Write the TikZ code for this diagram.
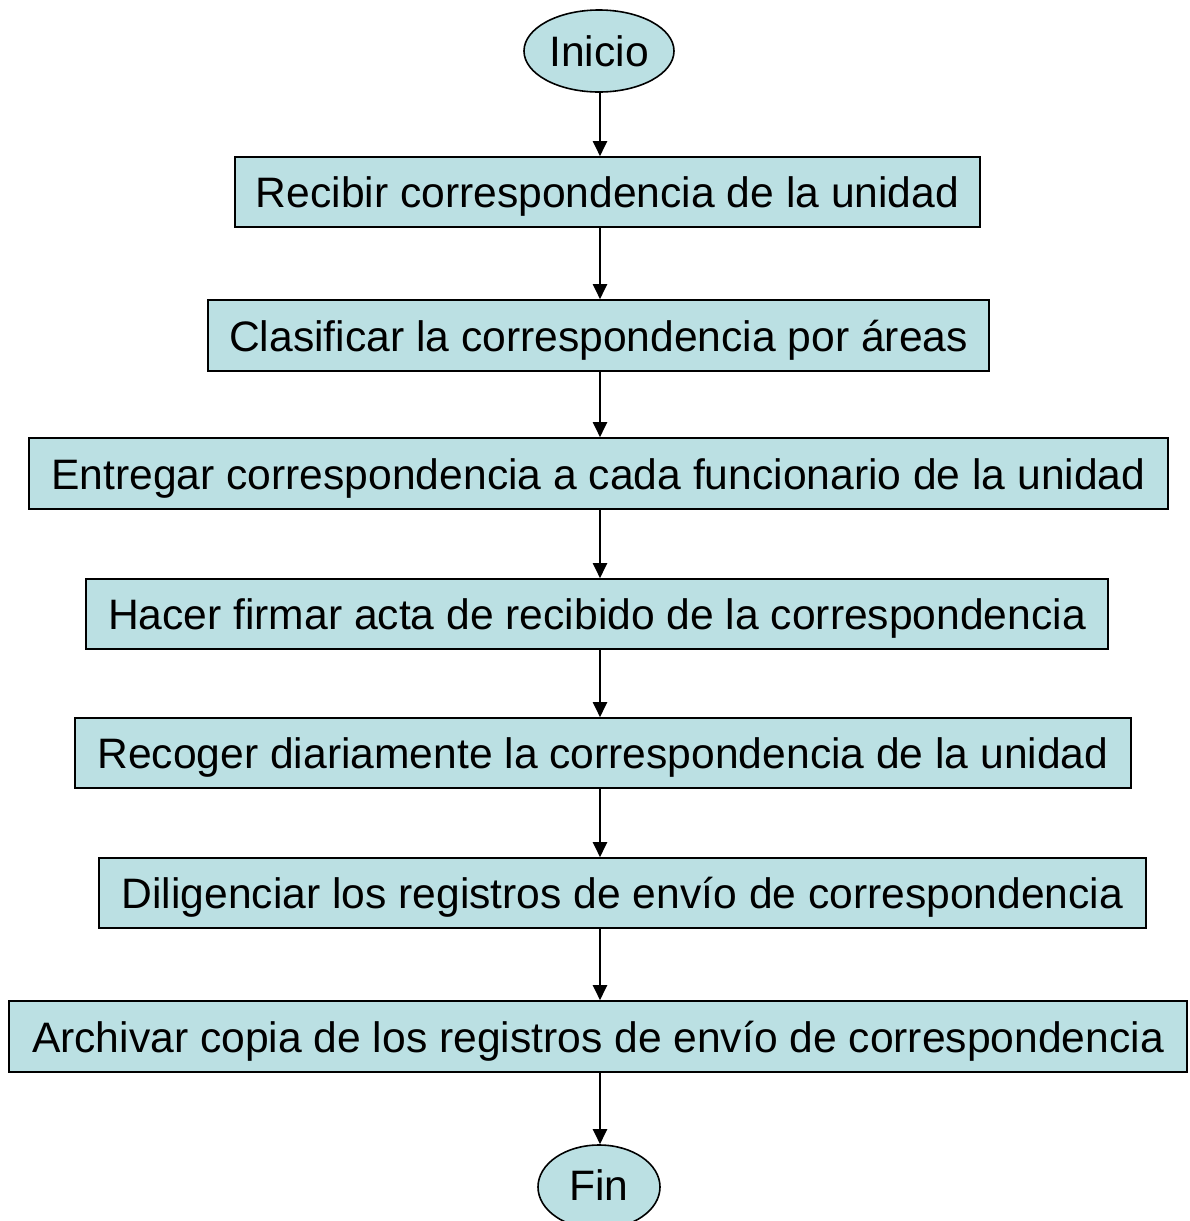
\documentclass[tikz,border=0pt]{standalone}
\usepackage{fontspec}
\setmainfont{Liberation Sans}
\usetikzlibrary{shapes.geometric,arrows.meta}
\definecolor{boxfill}{HTML}{BBE0E3}
\begin{document}
\begin{tikzpicture}[x=1pt,y=-1pt,
  every node/.style={font=\fontsize{42.6}{50}\selectfont, inner sep=0pt},
  stepbox/.style={draw=black, line width=1.6pt, fill=boxfill, rectangle, minimum height=70pt, text depth=0pt, text height=31pt},
  term/.style={draw=black, line width=1.6pt, fill=boxfill, ellipse},
  flow/.style={-{Triangle[length=15pt,width=14pt]}, line width=2pt}]
\useasboundingbox (0,0) rectangle (1189,1221);
\node[term, minimum width=150pt, minimum height=82pt] (ini) at (599,51) {Inicio};
\node[stepbox, minimum width=745pt] (b1) at (607.5,192) {Recibir correspondencia de la unidad};
\node[stepbox, minimum width=781pt, minimum height=71pt] (b2) at (598.5,335.5) {Clasificar la correspondencia por áreas};
\node[stepbox, minimum width=1139pt, minimum height=71pt] (b3) at (598.5,473.5) {Entregar correspondencia a cada funcionario de la unidad};
\node[stepbox, minimum width=1022pt] (b4) at (597,614) {Hacer firmar acta de recibido de la correspondencia};
\node[stepbox, minimum width=1056pt] (b5) at (603,753) {Recoger diariamente la correspondencia de la unidad};
\node[stepbox, minimum width=1047pt] (b6) at (622.5,893) {Diligenciar los registros de envío de correspondencia};
\node[stepbox, minimum width=1178pt, minimum height=71pt] (b7) at (598,1036.5) {Archivar copia de los registros de envío de correspondencia};
\node[term, minimum width=122pt, minimum height=84pt, text depth=4pt] (fin) at (599,1187) {Fin};
\draw[flow] (ini.south -| 600,0) -- (b1.north -| 600,0);
\draw[flow] (b1.south -| 600,0) -- (b2.north -| 600,0);
\draw[flow] (b2.south -| 600,0) -- (b3.north -| 600,0);
\draw[flow] (b3.south -| 600,0) -- (b4.north -| 600,0);
\draw[flow] (b4.south -| 600,0) -- (b5.north -| 600,0);
\draw[flow] (b5.south -| 600,0) -- (b6.north -| 600,0);
\draw[flow] (b6.south -| 600,0) -- (b7.north -| 600,0);
\draw[flow] (b7.south -| 600,0) -- (fin.north -| 600,0);
\end{tikzpicture}
\end{document}
